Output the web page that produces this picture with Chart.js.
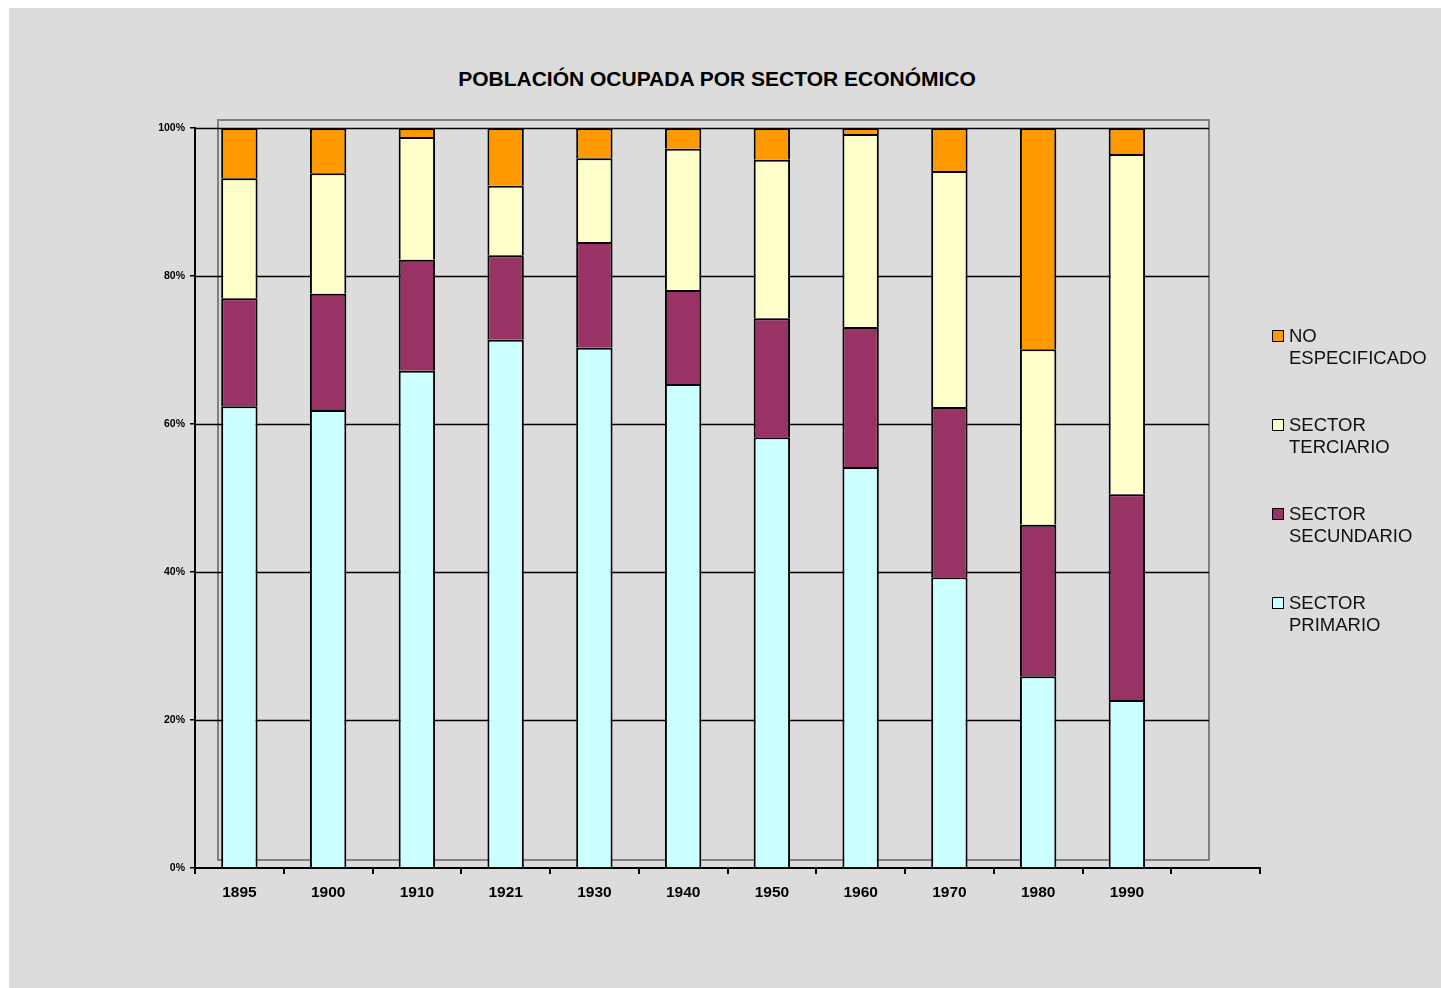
<!DOCTYPE html>
<html lang="es">
<head>
<meta charset="UTF-8">
<title>Población ocupada por sector económico</title>
<script src="https://cdn.jsdelivr.net/npm/chart.js"></script>
<style>
    body { margin: 0; background: #ffffff; font-family: 'Liberation Sans', Arial, sans-serif; }
    .wrap { position: relative; width: 1441px; height: 988px; overflow: hidden; }
    .bg { position: absolute; left: 9px; top: 8px; right: 0; bottom: 0; background: #dcdcdc; }
    canvas { position: absolute; left: 0; top: 0; }
    .title { position: absolute; left: 0; width: 1434px; top: 67px; text-align: center;
             font-weight: bold; font-size: 21px; color: #000; }
    .legend { position: absolute; left: 1272px; top: 325px; }
    .item { position: relative; height: 89px; font-size: 18.5px; line-height: 22px; color: #111; }
    .box { position: absolute; left: 0; top: 5px; width: 10px; height: 10px; border: 1.5px solid #000; }
    .txt { position: absolute; left: 17px; top: 0; white-space: nowrap; }
</style>
</head>
<body>
<div class="wrap">
    <div class="bg"></div>
    <div class="title">POBLACIÓN OCUPADA POR SECTOR ECONÓMICO</div>
    <canvas id="chart" width="1441" height="988"></canvas>
    <div class="legend" id="legend"></div>
</div>

<script>
    // datos (porcentajes)
    const years = ['1895', '1900', '1910', '1921', '1930', '1940', '1950', '1960', '1970', '1980', '1990', ''];
    const primario   = [62.4, 61.9, 67.2, 71.4, 70.3, 65.4, 58.2, 54.2, 39.3, 25.9, 22.7];
    const secundario = [14.6, 15.7, 15.0, 11.4, 14.3, 12.7, 16.1, 18.9, 23.0, 20.5, 27.8];
    const terciario  = [16.2, 16.3, 16.6,  9.4, 11.3, 19.1, 21.4, 26.1, 31.9, 23.7, 46.0];
    const noEspec    = [ 6.8,  6.1,  1.2,  7.8,  4.1,  2.8,  4.3,  0.8,  5.8, 29.9,  3.5];
    const yTicks = [0, 20, 40, 60, 80, 100];

    const series = [
        { label: ['SECTOR', 'PRIMARIO'], data: primario, color: '#ccffff' },
        { label: ['SECTOR', 'SECUNDARIO'], data: secundario, color: '#993366' },
        { label: ['SECTOR', 'TERCIARIO'], data: terciario, color: '#ffffcc' },
        { label: ['NO', 'ESPECIFICADO'], data: noEspec, color: '#ff9900' }
    ];

    // leyenda a la derecha (orden inverso)
    const legend = document.getElementById('legend');
    series.slice().reverse().forEach(s => {
        const div = document.createElement('div');
        div.className = 'item';
        div.innerHTML = '<span class="box" style="background:' + s.color + '"></span>' +
            '<span class="txt">' + s.label.join('<br>') + '</span>';
        legend.appendChild(div);
    });

    // marco gris y líneas horizontales
    const decor = {
        id: 'decor',
        beforeDatasetsDraw(chart) {
            const { ctx, chartArea, scales } = chart;
            const right = chartArea.right - 51;
            ctx.save();
            ctx.strokeStyle = '#808080';
            ctx.lineWidth = 2;
            ctx.strokeRect(chartArea.left + 23, chartArea.top - 8, right - chartArea.left - 23, chartArea.bottom - chartArea.top);
            ctx.strokeStyle = '#000';
            ctx.lineWidth = 1.5;
            yTicks.slice(1).forEach(v => {
                const y = Math.round(scales.y.getPixelForValue(v)) + 0.5;
                ctx.beginPath();
                ctx.moveTo(chartArea.left, y);
                ctx.lineTo(right, y);
                ctx.stroke();
            });
            ctx.restore();
        }
    };

    new Chart(document.getElementById('chart'), {
        type: 'bar',
        data: {
            labels: years,
            datasets: series.map(s => ({
                label: s.label.join(' '),
                data: s.data,
                backgroundColor: s.color,
                borderColor: '#000',
                borderWidth: 2,
                borderSkipped: 'start',
                barPercentage: 0.41,
                categoryPercentage: 1
            }))
        },
        options: {
            responsive: false,
            animation: false,
            layout: { padding: { top: 128, right: 181, left: 0, bottom: 0 } },
            plugins: {
                legend: { display: false },
                title: { display: false },
                tooltip: { enabled: false }
            },
            scales: {
                x: {
                    stacked: true,
                    grid: { drawOnChartArea: false, drawTicks: true, tickLength: 6, color: '#000', lineWidth: 2 },
                    border: { color: '#000', width: 2 },
                    ticks: { color: '#000', font: { family: "'Liberation Sans', Arial", size: 15.5, weight: 'bold' }, padding: 9, maxRotation: 0 },
                    afterFit: s => { s.height = 120; }
                },
                y: {
                    stacked: true,
                    min: 0,
                    max: 100,
                    afterBuildTicks: s => { s.ticks = yTicks.map(v => ({ value: v })); },
                    grid: { drawOnChartArea: false, drawTicks: true, tickLength: 5, color: '#000', lineWidth: 1.5 },
                    border: { color: '#000', width: 2 },
                    ticks: { color: '#000', font: { family: "'Liberation Sans', Arial", size: 10.5, weight: 'bold' }, padding: 5,
                             callback: v => v + '%' },
                    afterFit: s => { s.width = 195; }
                }
            }
        },
        plugins: [decor]
    });
</script>
</body>
</html>
